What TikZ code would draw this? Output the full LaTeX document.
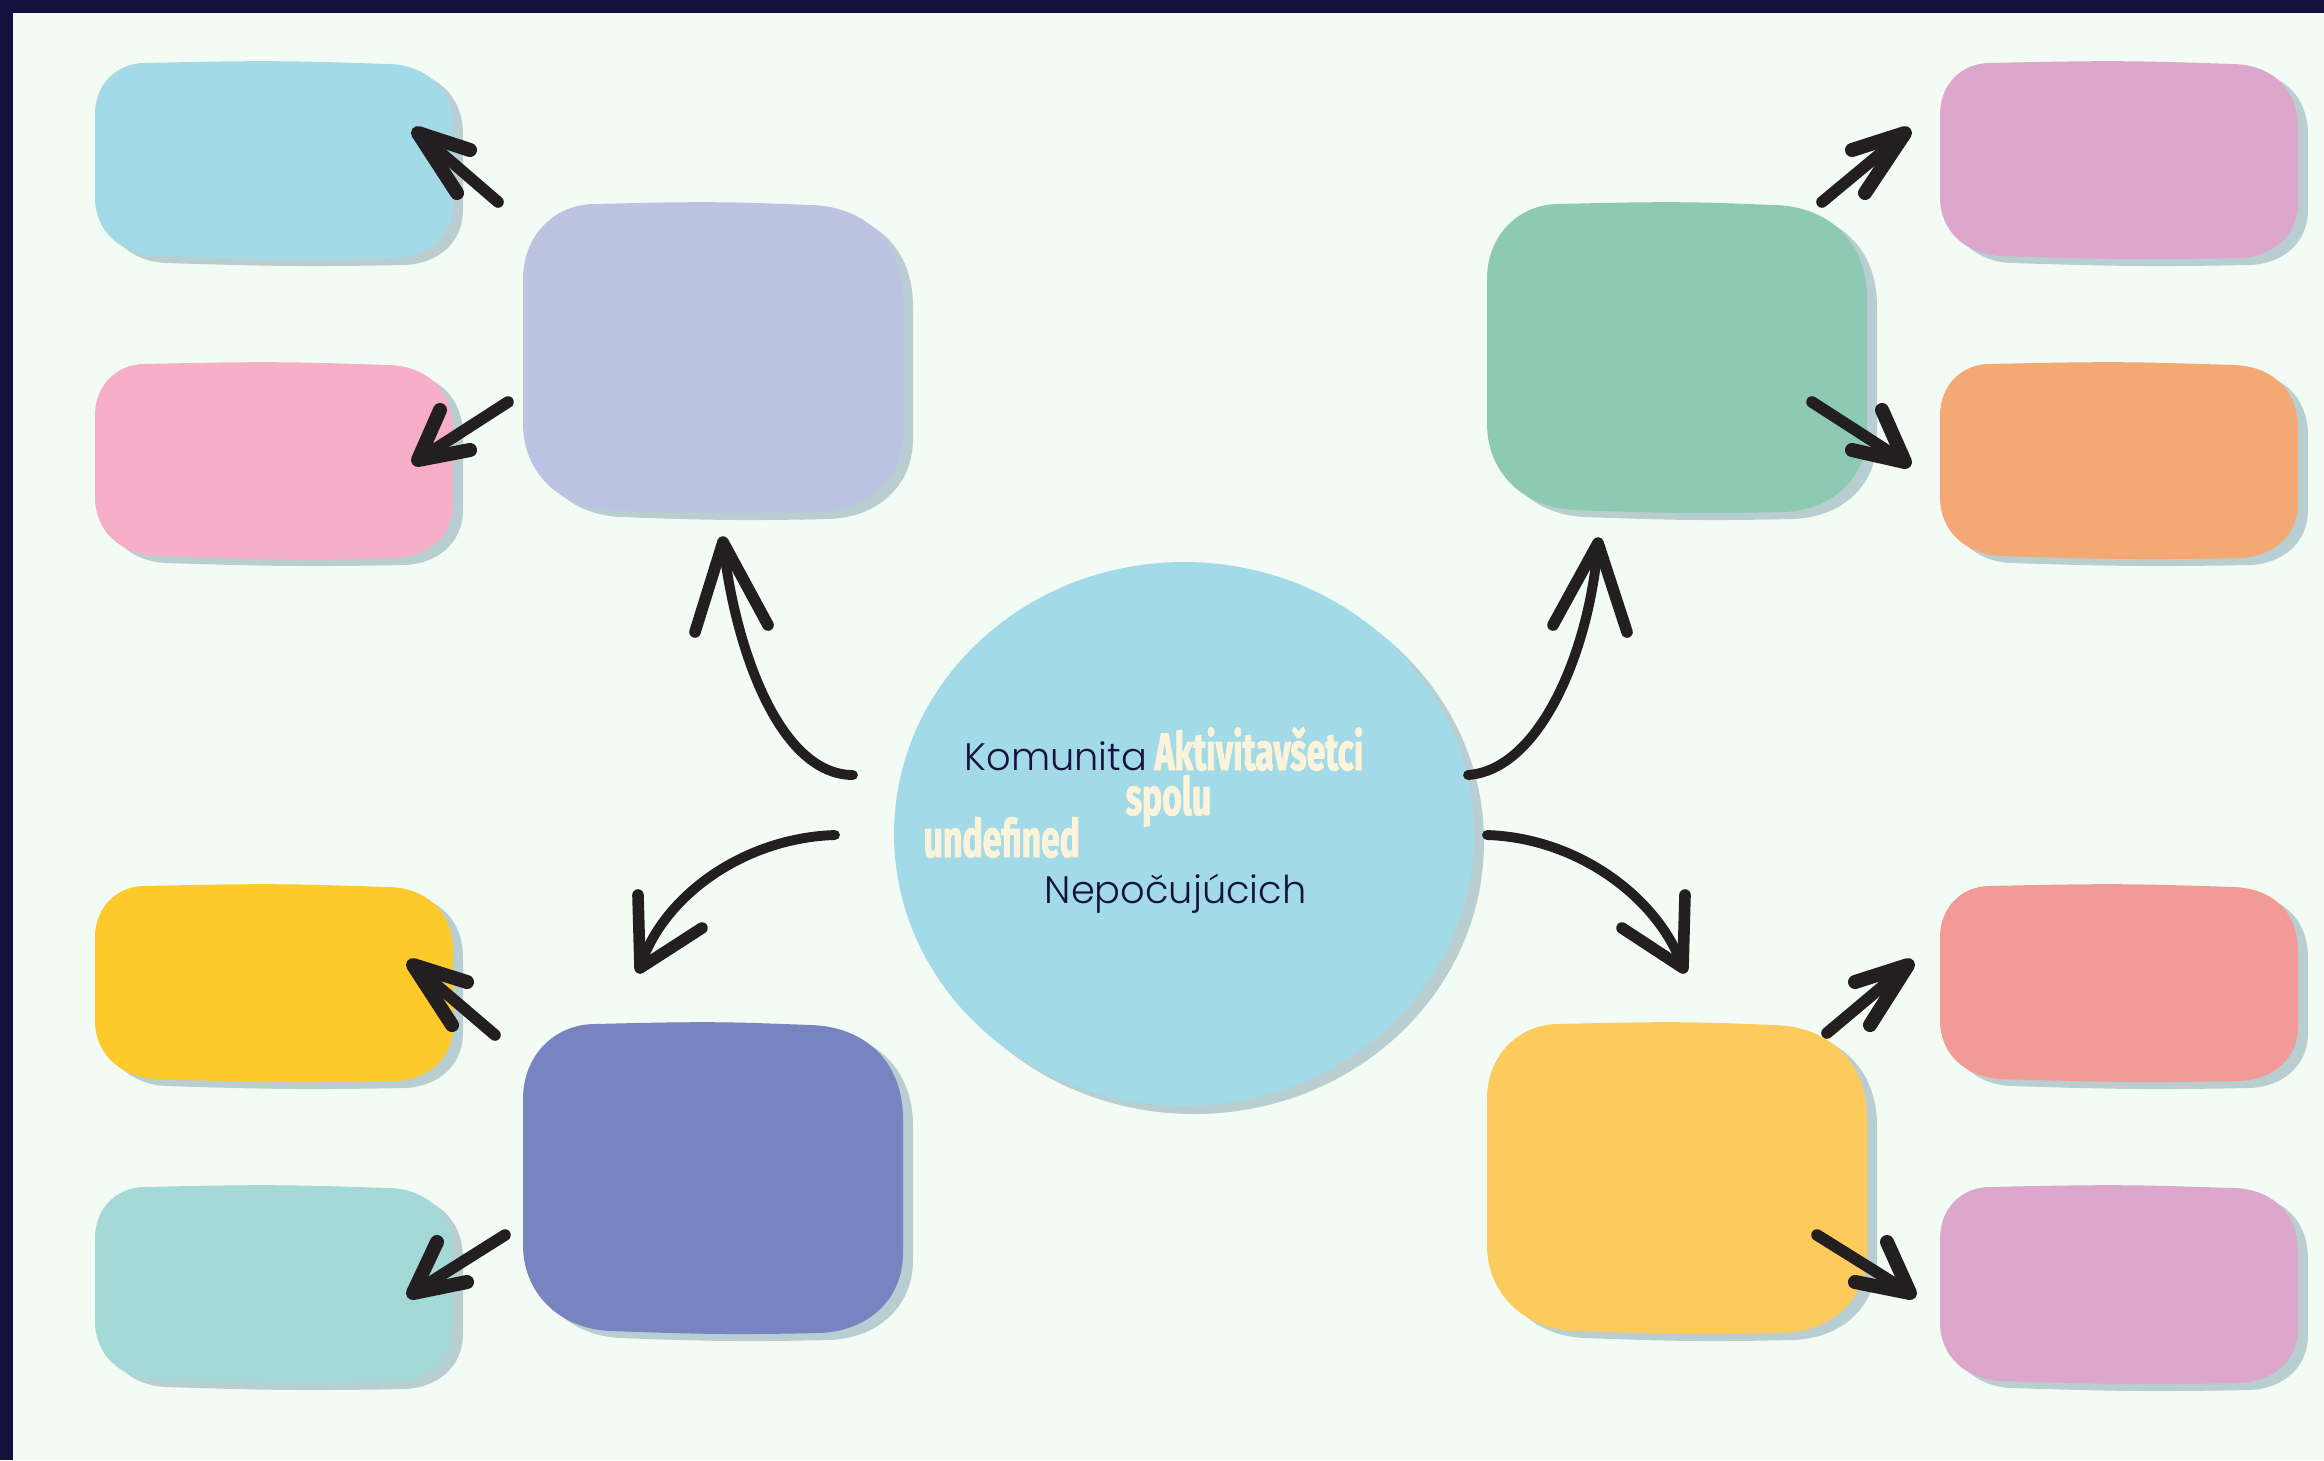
\documentclass[tikz,border=0pt]{standalone}
\usepackage{fontspec}
\IfFontExistsTF{Poppins Light}{\newfontfamily\qfont{Poppins Light}}{\newfontfamily\qfont{Poppins}}
\newfontfamily\afont[FakeStretch=0.64,FakeBold=1.6]{Fira Sans}
\definecolor{bgc}{HTML}{F2FCF4}
\definecolor{framec}{HTML}{16103F}
\definecolor{shadowc}{HTML}{B9CED0}
\definecolor{inkc}{HTML}{231F20}
\definecolor{navyt}{HTML}{16123F}
\definecolor{creamt}{HTML}{FBF3DA}
\definecolor{cLightblue}{HTML}{A3DAE7}
\definecolor{cPink}{HTML}{F7AEC8}
\definecolor{cYellow}{HTML}{FDC92B}
\definecolor{cTeal}{HTML}{A4D9D7}
\definecolor{cLavender}{HTML}{BDC4E3}
\definecolor{cDarkblue}{HTML}{7784BF}
\definecolor{cGreen}{HTML}{8DC9B3}
\definecolor{cYellowb}{HTML}{FDCB5C}
\definecolor{cOrchid}{HTML}{DDA7CB}
\definecolor{cOrange}{HTML}{F4A873}
\definecolor{cSalmon}{HTML}{F19A97}
\definecolor{cCircle}{HTML}{A3DAE7}
% #1 L, #2 T, #3 R, #4 B, #5 r, #6 style
\newcommand\blobfill[6]{%
  \fill[#6] ({#1+0.9*#5},{#2+1})
    .. controls ({(#1+#3)/2},{#2-2}) and ({(#1+#3)/2+20},{#2-1}) .. ({#3-1.15*#5},{#2+2})
    .. controls ({#3-0.5*#5},{#2+3}) and ({#3+1},{#2+0.45*#5}) .. ({#3+1},{#2+1.2*#5})
    -- ({#3+1},{#4-1.0*#5})
    .. controls ({#3+1},{#4-0.4*#5}) and ({#3-0.45*#5},{#4-1}) .. ({#3-1.05*#5},{#4})
    .. controls ({(#1+#3)/2+20},{#4+2}) and ({(#1+#3)/2-20},{#4+1}) .. ({#1+1.1*#5},{#4-2})
    .. controls ({#1+0.45*#5},{#4-4}) and ({#1},{#4-0.5*#5}) .. ({#1},{#4-1.1*#5})
    -- ({#1},{#2+0.95*#5})
    .. controls ({#1},{#2+0.4*#5}) and ({#1+0.4*#5},{#2+1}) .. cycle;}
% #1 name, #2 L, #3 T, #4 B, #5 B, #6 r, #7 colour
\newcommand\blob[7]{%
  \blobfill{#2}{#3}{#4}{#5}{#6}{shadowc, shift={(10,7)}}%
  \blobfill{#2}{#3}{#4}{#5}{#6}{#7}%
  \node[inner sep=0pt] (#1) at ({(#2+#4)/2},{(#3+#5)/2}) {};}
\begin{document}
\begin{tikzpicture}[x=0.01cm,y=-0.01cm,
  bigshaft/.style={draw=inkc, line width=2.8pt, line cap=round},
  bighead/.style={draw=inkc, line width=3.3pt, line cap=round, line join=round},
  smallshaft/.style={draw=inkc, line width=3.3pt, line cap=round},
  smallhead/.style={draw=inkc, line width=4pt, line cap=round, line join=round},
  navytext/.style={inner sep=0pt, anchor=base west, text=navyt, font=\qfont\fontsize{10.9}{13}\selectfont},
  creamtext/.style={inner sep=0pt, anchor=base west, text=creamt, font=\afont\bfseries\fontsize{15}{16}\selectfont}]
\useasboundingbox (0,0) rectangle (2324,1460);
\fill[bgc] (0,0) rectangle (2324,1460);
\fill[framec] (0,0) rectangle (2324,13);
\fill[framec] (0,0) rectangle (13,1460);

% small boxes, left column
\blob{sL1}{95}{62}{452}{258}{55}{cLightblue}
\blob{sL2}{95}{363}{452}{558}{55}{cPink}
\blob{sL3}{95}{885}{452}{1081}{55}{cYellow}
\blob{sL4}{95}{1186}{452}{1382}{55}{cTeal}
% small boxes, right column
\blob{sR1}{1940}{62}{2297}{258}{55}{cOrchid}
\blob{sR2}{1940}{363}{2297}{558}{55}{cOrange}
\blob{sR3}{1940}{885}{2297}{1081}{55}{cSalmon}
\blob{sR4}{1940}{1186}{2297}{1383}{55}{cOrchid}
% medium boxes
\blob{mTL}{523}{203}{902}{512}{80}{cLavender}
\blob{mBL}{523}{1023}{902}{1333}{80}{cDarkblue}
\blob{mTR}{1487}{203}{1866}{512}{80}{cGreen}
\blob{mBR}{1487}{1023}{1866}{1333}{80}{cYellowb}

% central circle
\fill[shadowc] (1194,842) ellipse [x radius=290, y radius=272];
\fill[cCircle] (1184,834) ellipse [x radius=290, y radius=272];
\node[inner sep=0pt] (hub) at (1184,834) {};

% texts
\node[navytext] (tKom) at (964,770) {Komunita};
\node[creamtext] (tAkt) at (1154,770) {Aktivitavšetci};
\node[creamtext] (tSpo) at (1125,815) {spolu};
\node[creamtext] (tUnd) at (923,857) {undefined};
\node[navytext] (tNep) at (1044,903) {Nepočujúcich};

% main arrows
\coordinate (m1t) at (853,775); \coordinate (m1h) at (723,542);
\coordinate (m1a) at (695,632); \coordinate (m1b) at (768,625);
\draw[bigshaft] (m1t) .. controls (780,775) and (735,650) .. (m1h);
\draw[bighead] (m1a) -- (m1h) -- (m1b);

\coordinate (m2t) at (835,835); \coordinate (m2h) at (640,968);
\coordinate (m2a) at (638,895); \coordinate (m2b) at (702,928);
\draw[bigshaft] (m2t) .. controls (740,838) and (660,900) .. (m2h);
\draw[bighead] (m2a) -- (m2h) -- (m2b);

\coordinate (m3t) at (1468,775); \coordinate (m3h) at (1598,543);
\coordinate (m3a) at (1553,625); \coordinate (m3b) at (1627,632);
\draw[bigshaft] (m3t) .. controls (1540,770) and (1590,650) .. (m3h);
\draw[bighead] (m3a) -- (m3h) -- (m3b);

\coordinate (m4t) at (1487,835); \coordinate (m4h) at (1683,968);
\coordinate (m4a) at (1685,895); \coordinate (m4b) at (1622,928);
\draw[bigshaft] (m4t) .. controls (1580,838) and (1660,900) .. (m4h);
\draw[bighead] (m4a) -- (m4h) -- (m4b);

% small arrows
\coordinate (s1t) at (498,202); \coordinate (s1h) at (418,133);
\coordinate (s1a) at (470,150); \coordinate (s1b) at (457,193);
\coordinate (s2t) at (508,402); \coordinate (s2h) at (418,460);
\coordinate (s2a) at (440,410); \coordinate (s2b) at (470,450);
\coordinate (s3t) at (495,1035); \coordinate (s3h) at (413,965);
\coordinate (s3a) at (467,982); \coordinate (s3b) at (452,1025);
\coordinate (s4t) at (505,1235); \coordinate (s4h) at (413,1293);
\coordinate (s4a) at (437,1242); \coordinate (s4b) at (467,1282);
\coordinate (s5t) at (1822,202); \coordinate (s5h) at (1905,133);
\coordinate (s5a) at (1852,150); \coordinate (s5b) at (1865,193);
\coordinate (s6t) at (1812,402); \coordinate (s6h) at (1905,462);
\coordinate (s6a) at (1882,410); \coordinate (s6b) at (1852,450);
\coordinate (s7t) at (1827,1033); \coordinate (s7h) at (1908,965);
\coordinate (s7a) at (1855,982); \coordinate (s7b) at (1870,1025);
\coordinate (s8t) at (1817,1235); \coordinate (s8h) at (1910,1293);
\coordinate (s8a) at (1887,1242); \coordinate (s8b) at (1855,1282);
\foreach \i in {1,...,8}{
  \draw[smallshaft] (s\i t) -- (s\i h);
  \draw[smallhead] (s\i a) -- (s\i h) -- (s\i b);
}
\end{tikzpicture}
\end{document}
